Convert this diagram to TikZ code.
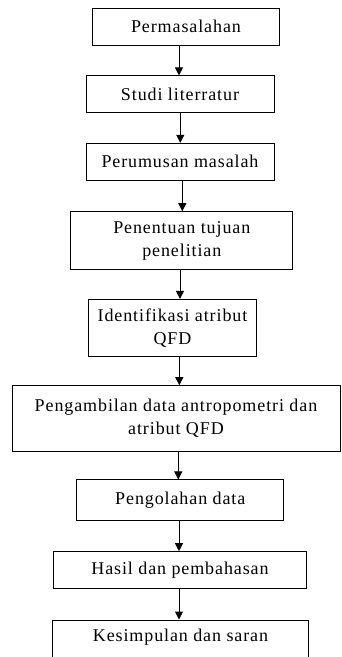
\documentclass[tikz,border=0pt]{standalone}
\usepackage{fontspec}
\setmainfont{Liberation Serif}[LetterSpace=5]
\usetikzlibrary{arrows.meta}
\begin{document}
\begin{tikzpicture}[x=1pt,y=-1pt,
  box/.style={draw=black, line width=1pt, rectangle, inner sep=0pt, align=center,
    font=\fontsize{18}{23}\selectfont},
  arr/.style={draw=black, line width=1pt, -{Triangle[width=8pt,length=8pt]}}]
\useasboundingbox (0,0) rectangle (341,657);
\clip (0,0) rectangle (341,657);
\node[box, minimum width=186.6pt, minimum height=36.7pt] (b1) at (186,26.7) {Permasalahan};
\node[box, minimum width=188pt, minimum height=36.7pt] (b2) at (180,94.3) {Studi literratur};
\node[box, minimum width=188pt, minimum height=36.7pt] (b3) at (180,161.7) {Perumusan masalah};
\node[box, minimum width=221.7pt, minimum height=57.6pt] (b4) at (181.8,240.5) {Penentuan tujuan\\penelitian};
\node[box, minimum width=168.4pt, minimum height=56.7pt] (b5) at (172.5,327.7) {Identifikasi atribut\\QFD};
\node[box, minimum width=328pt, minimum height=66pt] (b6) at (176,418.7) {Pengambilan data antropometri dan\\atribut QFD};
\node[box, minimum width=207.3pt, minimum height=40.7pt] (b7) at (180.3,500.3) {Pengolahan data};
\node[box, minimum width=253.4pt, minimum height=37pt] (b8) at (180,570.2) {Hasil dan pembahasan};
\node[draw=black, line width=1pt, rectangle, minimum width=255.6pt, minimum height=60pt] (b9) at (180.5,650) {};
\node[font=\fontsize{18}{23}\selectfont] (t9) at (180.5,636.7) {Kesimpulan dan saran};
\draw[arr] (b1.south -| 179,0) -- (b2.north -| 179,0);
\draw[arr] (b2.south -| 180.3,0) -- (b3.north -| 180.3,0);
\draw[arr] (b3.south -| 182.3,0) -- (b4.north -| 182.3,0);
\draw[arr] (b4.south -| 180,0) -- (b5.north -| 180,0);
\draw[arr] (b5.south -| 179.3,0) -- (b6.north -| 179.3,0);
\draw[arr] (b6.south -| 178.3,0) -- (b7.north -| 178.3,0);
\draw[arr] (b7.south -| 179,0) -- (b8.north -| 179,0);
\draw[arr] (b8.south -| 179,0) -- (b9.north -| 179,0);
\end{tikzpicture}
\end{document}
